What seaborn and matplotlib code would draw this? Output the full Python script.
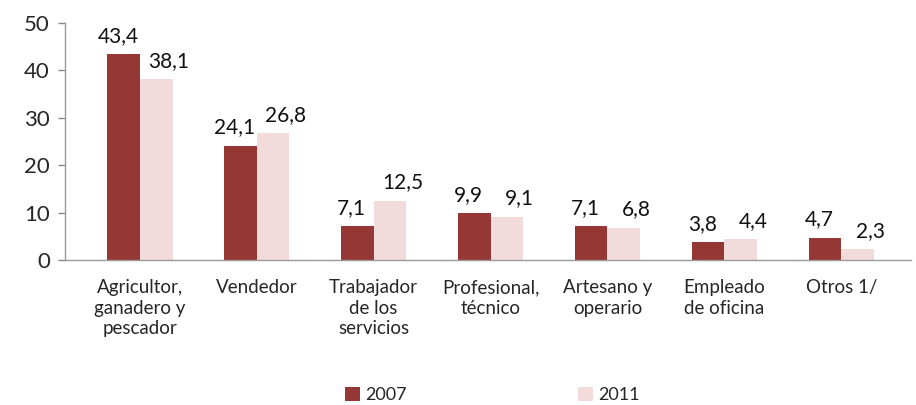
import matplotlib
matplotlib.use("Agg")
import matplotlib.pyplot as plt
import seaborn as sns
import pandas as pd

categories = ["Agricultor,\nganadero y\npescador", "Vendedor", "Trabajador\nde los\nservicios",
              "Profesional,\ntécnico", "Artesano y\noperario", "Empleado\nde oficina", "Otros 1/"]
years = ["2007", "2011"]
values_2007 = [43.4, 24.1, 7.1, 9.9, 7.1, 3.8, 4.7]
values_2011 = [38.1, 26.8, 12.5, 9.1, 6.8, 4.4, 2.3]
colors = {"2007": "#953735", "2011": "#F2DCDB"}

df = pd.DataFrame({
    "cat": categories * 2,
    "year": ["2007"] * len(categories) + ["2011"] * len(categories),
    "val": values_2007 + values_2011,
})

sns.set_theme(style="white")
plt.rcParams["font.family"] = ["Lato", "DejaVu Sans"]

fig = plt.figure(figsize=(9.16, 4.05), dpi=100)
ax = fig.add_axes([0.071, 0.358, 0.924, 0.585])
sns.barplot(data=df, x="cat", y="val", hue="year", palette=colors, width=0.56,
            saturation=1, edgecolor="none", ax=ax, legend=True)

for i, cont in enumerate(ax.containers):
    labels = [f"{v:.1f}".replace(".", ",") for v in cont.datavalues]
    anns = ax.bar_label(cont, labels=labels, padding=4, fontsize=15, color="#111111")
    dx = -4 if i == 0 else 9
    for a in anns:
        a.xyann = (dx, a.xyann[1] + 2)

ax.set_ylim(0, 50)
ax.set_yticks([0, 10, 20, 30, 40, 50])
ax.set_xlim(-0.64, 6.6)
ax.set_xlabel("")
ax.set_ylabel("")
ax.tick_params(axis="y", labelsize=16, length=5, width=1, color="#888888", direction="out", left=True, pad=6)
ax.tick_params(axis="x", labelsize=13.5, length=0, pad=14)
for lab in ax.get_xticklabels():
    lab.set_verticalalignment("top")
    lab.set_linespacing(1.25)
for s in ["top", "right"]:
    ax.spines[s].set_visible(False)
for s in ["left", "bottom"]:
    ax.spines[s].set_color("#9a9a9a")
    ax.spines[s].set_linewidth(1)

handles, labs = ax.get_legend_handles_labels()
ax.legend(handles, labs, loc="center", bbox_to_anchor=(0.505, -0.57), ncol=2,
          frameon=False, fontsize=13, handlelength=0.8, handleheight=0.8,
          columnspacing=9.5, handletextpad=0.3)

fig.savefig("out.png", dpi=100)
